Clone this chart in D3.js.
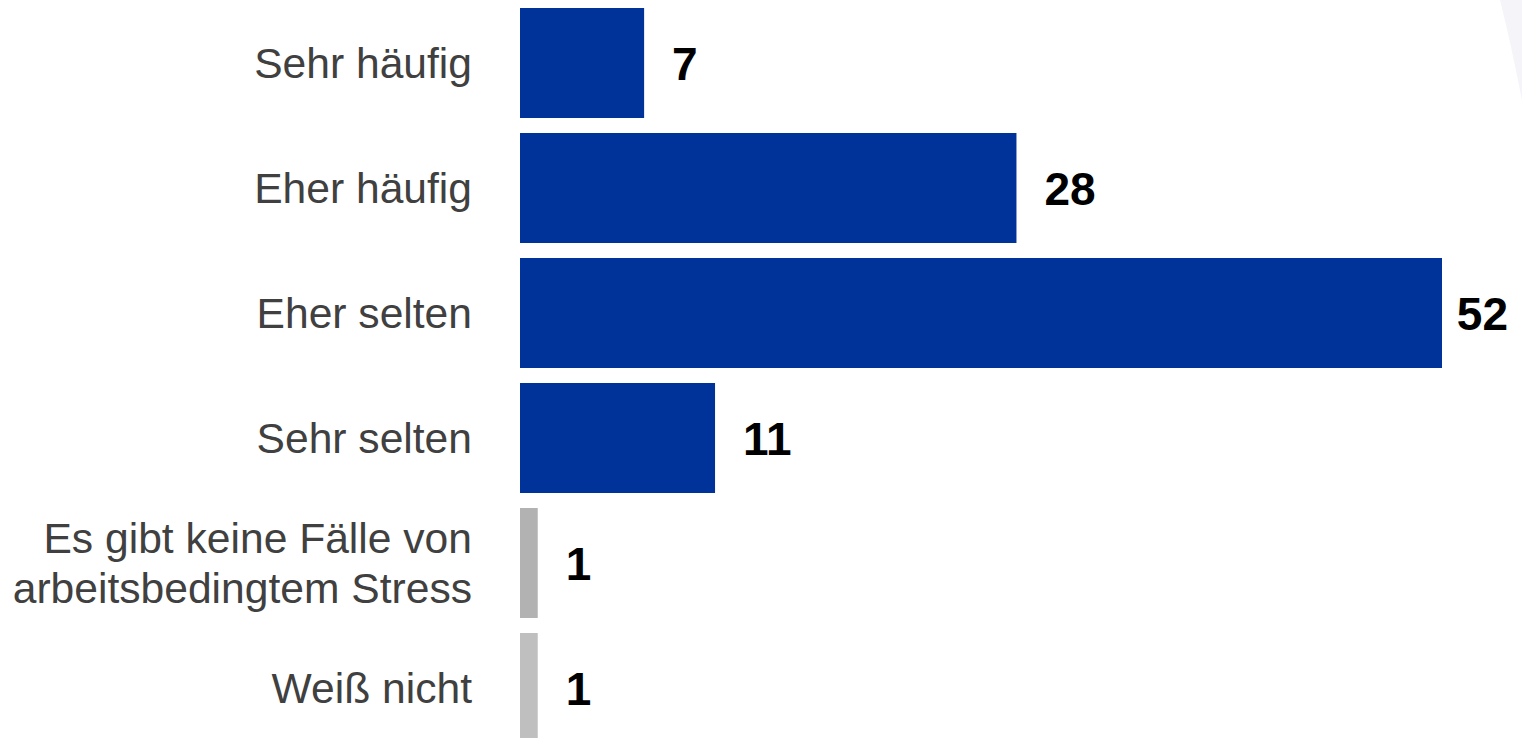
<!DOCTYPE html>
<html>
<head>
<meta charset="utf-8">
<script src="https://cdn.jsdelivr.net/npm/d3@7"></script>
<style>
  html, body { margin: 0; padding: 0; background: #fff; overflow: hidden; }
</style>
</head>
<body>
<div id="chart"></div>
<script>
'use strict'

// the data
const categories = [
  ['Sehr häufig'],
  ['Eher häufig'],
  ['Eher selten'],
  ['Sehr selten'],
  ['Es gibt keine Fälle von', 'arbeitsbedingtem Stress'],
  ['Weiß nicht']
]
const values = [7, 28, 52, 11, 1, 1]
const barColors = ['#003399', '#003399', '#003399', '#003399', '#b2b2b2', '#bfbfbf']

var width = 1522
var height = 738
var margin = { top: 8, left: 520 }
var keys = categories.map((c, i) => 'c' + i)

var svg = d3.select('#chart').append('svg')
  .attr('width', width)
  .attr('height', height)

// faint decoration at top right
svg.append('path')
  .attr('d', 'M1500,0 C1510,40 1516,70 1522,100 L1522,0 Z')
  .attr('fill', '#f4f4f9')

var x = d3.scaleLinear().domain([0, 52]).range([margin.left, 1442])
var y = d3.scaleBand().domain(keys).range([margin.top, margin.top + 735]).paddingInner(0.12).paddingOuter(0)

var rows = svg.selectAll('g.row')
  .data(values.map((v, i) => ({ v: v, key: keys[i], lines: categories[i], color: barColors[i] })))
  .enter().append('g')
  .attr('class', 'row')

rows.append('rect')
  .attr('x', x(0))
  .attr('y', d => y(d.key))
  .attr('width', d => x(d.v) - x(0))
  .attr('height', y.bandwidth())
  .attr('fill', d => d.color)

// category labels
var lineH = 50
rows.append('text')
  .attr('text-anchor', 'end')
  .attr('font-family', 'Liberation Sans, Arial, sans-serif')
  .attr('font-size', '42.6px')
  .attr('fill', '#404040')
  .each(function (d) {
    var cy = y(d.key) + y.bandwidth() / 2
    var n = d.lines.length
    d3.select(this).selectAll('tspan')
      .data(d.lines)
      .enter().append('tspan')
      .attr('x', 472)
      .attr('y', (l, j) => cy + (j - (n - 1) / 2) * lineH)
      .attr('dy', '0.36em')
      .text(l => l)
  })

// value labels
rows.append('text')
  .attr('font-family', 'Liberation Sans, Arial, sans-serif')
  .attr('font-weight', 'bold')
  .attr('font-size', '46px')
  .attr('fill', '#000')
  .attr('y', d => y(d.key) + y.bandwidth() / 2)
  .attr('dy', '0.36em')
  .text(d => d.v)
  .attr('x', function (d) {
    var w = this.getComputedTextLength()
    return Math.min(x(d.v) + 28, width - 14 - w)
  })
</script>
</body>
</html>
